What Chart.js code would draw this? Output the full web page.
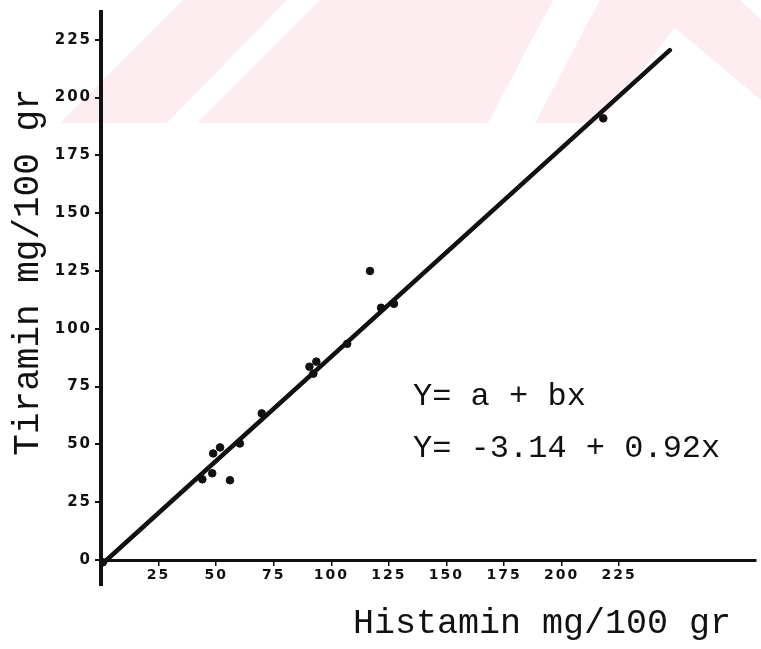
<!DOCTYPE html>
<html>
<head>
<meta charset="utf-8">
<title>Tiramin / Histamin</title>
<script src="https://cdn.jsdelivr.net/npm/chart.js@4.4.1/dist/chart.umd.min.js"></script>
<style>
    html, body { margin: 0; padding: 0; background: #fff; }
    #chartBox { width: 761px; height: 649px; }
</style>
</head>
<body>
<div id="chartBox"><canvas id="scatterChart" width="761" height="649"></canvas></div>
<script>
// measured samples (mg/100 gr)
const histaminValues = [218.1, 116.8, 121.6, 127.2, 106.9, 90.5, 93.5, 92.2, 69.8, 60.3, 51.7, 48.7, 48.3, 44.0, 56.0, 0.8];
const tiraminValues  = [191.0, 125.0, 109.1, 110.8, 93.5, 83.6, 85.8, 80.6, 63.4, 50.4, 48.7, 46.1, 37.5, 34.9, 34.5, -1.0];

// regression line as drawn on the sheet
const fitX = [1, 247];
const fitY = [-1.3, 220.5];

const xTickValues = [25, 50, 75, 100, 125, 150, 175, 200, 225];
const yTickValues = [0, 25, 50, 75, 100, 125, 150, 175, 200, 225];

const xTitle = 'Histamin mg/100 gr';
const yTitle = 'Tiramin mg/100 gr';
const equationLines = ['Y= a + bx', 'Y= -3.14 + 0.92x'];

const monoFont = "'Liberation Mono', 'DejaVu Sans Mono', monospace";
const ink = '#111';
const stampPink = '#fdedf0';

document.addEventListener('DOMContentLoaded', function () {
    const canvas = document.getElementById('scatterChart');

    const points = histaminValues.map((x, i) => ({ x: x, y: tiraminValues[i] }));
    const fitLine = fitX.map((x, i) => ({ x: x, y: fitY[i] }));

    // faint pink stamp across the top of the scanned sheet
    const stampPlugin = {
        id: 'sheetStamp',
        beforeDraw(chart) {
            const ctx = chart.ctx;
            const shapes = [
                [[60, 123], [183, 0], [287, 0], [167, 123]],
                [[197, 123], [320, 0], [553, 0], [488, 123]],
                [[535, 123], [600, 0], [740, 0], [761, 20], [761, 100], [675, 28], [600, 123]]
            ];
            ctx.save();
            ctx.fillStyle = stampPink;
            shapes.forEach(poly => {
                ctx.beginPath();
                poly.forEach((p, i) => i ? ctx.lineTo(p[0], p[1]) : ctx.moveTo(p[0], p[1]));
                ctx.closePath();
                ctx.fill();
            });
            ctx.restore();
            // spaced-out digits of the typed tick labels
            ctx.letterSpacing = '2px';
        }
    };

    // axis titles + equation, typed text on the sheet
    const textPlugin = {
        id: 'sheetText',
        afterDraw(chart) {
            const ctx = chart.ctx;
            ctx.save();
            ctx.letterSpacing = '0px';
            ctx.fillStyle = ink;
            ctx.textBaseline = 'middle';

            ctx.font = '35px ' + monoFont;
            ctx.textAlign = 'left';
            ctx.fillText(xTitle, 353, 624);

            ctx.font = '32px ' + monoFont;
            ctx.fillText(equationLines[0], 413, 397);
            ctx.fillText(equationLines[1], 413, 449);

            ctx.translate(28, 272);
            ctx.rotate(-Math.PI / 2);
            ctx.textAlign = 'center';
            ctx.font = '36px ' + monoFont;
            ctx.fillText(yTitle, 0, 0);
            ctx.restore();
            ctx.letterSpacing = '0px';
        }
    };

    new Chart(canvas, {
        type: 'scatter',
        data: {
            datasets: [{
                label: 'Örnekler',
                data: points,
                backgroundColor: ink,
                borderColor: ink,
                pointRadius: 3.8,
                pointHoverRadius: 3.8,
                order: 1
            }, {
                type: 'line',
                label: 'Regresyon',
                data: fitLine,
                borderColor: ink,
                borderWidth: 4.5,
                borderCapStyle: 'round',
                pointRadius: 0,
                fill: false,
                order: 2
            }]
        },
        options: {
            responsive: false,
            animation: false,
            layout: { padding: { top: 10, bottom: 64, left: 0, right: 0 } },
            plugins: {
                legend: { display: false },
                tooltip: { enabled: false }
            },
            scales: {
                x: {
                    type: 'linear',
                    min: 0,
                    max: 284.5,
                    position: { y: 0 },
                    afterBuildTicks: scale => { scale.ticks = xTickValues.map(v => ({ value: v })); },
                    grid: { drawOnChartArea: false, drawTicks: true, tickLength: 4, color: ink, lineWidth: 1.5 },
                    border: { display: true, color: ink, width: 3 },
                    ticks: {
                        color: ink,
                        padding: 3,
                        font: { family: "'DejaVu Sans', sans-serif", size: 14, weight: 'bold' }
                    }
                },
                y: {
                    type: 'linear',
                    min: -10.8,
                    max: 237,
                    position: 'left',
                    afterBuildTicks: scale => { scale.ticks = yTickValues.map(v => ({ value: v })); },
                    afterFit: scale => { scale.width = 101; },
                    grid: { drawOnChartArea: false, drawTicks: true, tickLength: 6, color: ink, lineWidth: 2 },
                    border: { display: true, color: ink, width: 4 },
                    ticks: {
                        color: ink,
                        padding: 3,
                        font: { family: "'DejaVu Sans', sans-serif", size: 15, weight: 'bold' }
                    }
                }
            }
        },
        plugins: [stampPlugin, textPlugin]
    });
});
</script>
</body>
</html>
